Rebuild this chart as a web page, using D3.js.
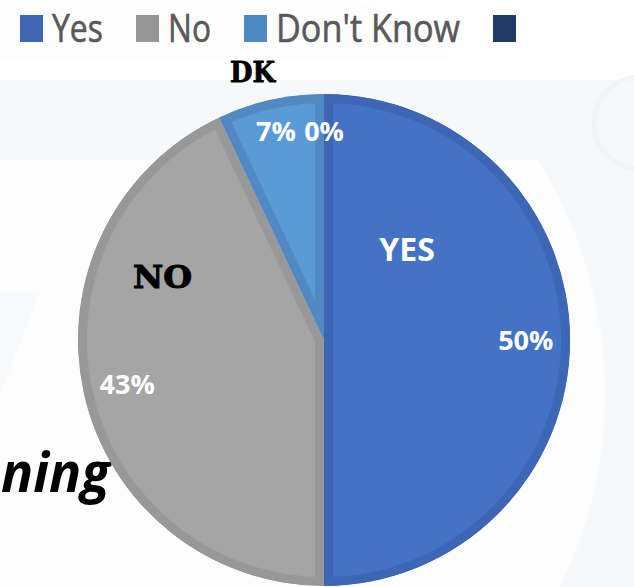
<!DOCTYPE html>
<html>
<head>
<meta charset="utf-8">
<script src="https://cdn.jsdelivr.net/npm/d3@7"></script>
<style>
  html, body { margin: 0; padding: 0; background: #ffffff; overflow: hidden; }
  svg { display: block; }
</style>
</head>
<body>
<svg id="chart" width="634" height="587"></svg>
<script>
// Survey answers
const categories = ["Yes", "No", "Don't Know", "Other"];
const legendLabels = ["Yes", "No", "Don't Know", ""];
const values = [50, 43, 7, 0];
const valueLabels = ["50%", "43%", "7%", "0%"];
const fillColors = ["#4472c4", "#a5a5a5", "#5b9bd5", "#264478"];
const edgeColors = ["#3d66b4", "#989898", "#5189c2", "#203864"];
const legendColors = ["#3f67b5", "#969696", "#4d8ac3", "#223a66"];

const W = 634, H = 587;
const cx = 324, cy = 340, R = 246;

const svg = d3.select("#chart");

// faint watermark shapes in the backdrop
const bg = svg.append("g");
bg.append("rect").attr("x", 0).attr("y", 80).attr("width", W).attr("height", H - 80).attr("fill", "#f7f8fa");
bg.append("circle").attr("cx", 168).attr("cy", 393).attr("r", 437).attr("fill", "#fdfdfe");
bg.append("rect").attr("x", 0).attr("y", 80).attr("width", W).attr("height", 80).attr("fill", "#f7f8fa");
bg.append("rect").attr("x", 0).attr("y", 60).attr("width", W).attr("height", 20).attr("fill", "#ffffff");
bg.append("path")
  .attr("d", "M0,292 L40,292 L-10,420 L-40,420 Z")
  .attr("fill", "#f8f9fb");
bg.append("circle").attr("cx", 640).attr("cy", 123).attr("r", 46)
  .attr("fill", "none").attr("stroke", "#f3f4f6").attr("stroke-width", 5);

// legend
const color = d3.scaleOrdinal().domain(categories).range(legendColors);
const legendX = d3.scaleOrdinal().domain(categories).range([20, 136, 244, 493]);
const legendW = d3.scaleOrdinal().domain(categories).range([51, 43, 184, 0]);
const legend = svg.append("g");
categories.forEach((c, i) => {
  const g = legend.append("g").attr("transform", `translate(${legendX(c)},0)`);
  g.append("rect").attr("x", 0).attr("y", 15).attr("width", 23).attr("height", 27)
    .attr("fill", color(c));
  if (legendLabels[i]) {
    g.append("text")
      .attr("x", 32).attr("y", 42)
      .attr("font-family", "'Open Sans', sans-serif")
      .attr("font-size", 39)
      .attr("fill", "#595959")
      .attr("stroke", "#595959")
      .attr("stroke-width", 0.6)
      .attr("textLength", legendW(c))
      .attr("lengthAdjust", "spacingAndGlyphs")
      .text(legendLabels[i]);
  }
});

// partial title text at the lower left
svg.append("text")
  .attr("x", 1).attr("y", 492)
  .attr("font-family", "'Open Sans', sans-serif")
  .attr("font-weight", 700)
  .attr("font-style", "italic")
  .attr("font-size", 56)
  .attr("fill", "#000")
  .attr("textLength", 109)
  .attr("lengthAdjust", "spacingAndGlyphs")
  .text("ning");

// pie
const pie = d3.pie().sort(null).value(d => d.value);
const arcs = pie(categories.map((c, i) => ({ cat: c, value: values[i], i })));
const arc = d3.arc().innerRadius(0).outerRadius(R);
const labelArc = d3.arc().innerRadius(R * 0.82).outerRadius(R * 0.82);

const pieG = svg.append("g").attr("transform", `translate(${cx},${cy})`);
const defs = svg.append("defs");
arcs.forEach((a, k) => {
  if (a.endAngle - a.startAngle <= 0) return;
  defs.append("clipPath").attr("id", "slice-clip-" + k)
    .append("path").attr("d", arc(a));
});
pieG.selectAll("path.slice")
  .data(arcs.filter(a => a.endAngle > a.startAngle))
  .join("path")
  .attr("class", "slice")
  .attr("d", arc)
  .attr("fill", d => fillColors[d.data.i])
  .attr("stroke", d => edgeColors[d.data.i])
  .attr("stroke-width", 18)
  .attr("clip-path", d => `url(#slice-clip-${d.index})`);

// value labels
const labelNudge = [[0, 0], [0, 0], [-4, -12], [0, -7]];
pieG.selectAll("text.val")
  .data(arcs)
  .join("text")
  .attr("class", "val")
  .attr("transform", d => {
    const p = labelArc.centroid(d);
    const n = labelNudge[d.data.i];
    return `translate(${p[0] + n[0]},${p[1] + n[1]})`;
  })
  .attr("text-anchor", "middle")
  .attr("dy", "0.36em")
  .attr("font-family", "'Open Sans', sans-serif")
  .attr("font-weight", 700)
  .attr("font-size", 27)
  .attr("fill", "#ffffff")
  .text(d => valueLabels[d.data.i]);

// category call-outs
svg.append("text")
  .attr("x", 407).attr("y", 261)
  .attr("text-anchor", "middle")
  .attr("font-family", "'Open Sans', sans-serif")
  .attr("font-weight", 700)
  .attr("font-size", 32)
  .attr("fill", "#ffffff")
  .text("YES");
svg.append("text")
  .attr("x", 133).attr("y", 288)
  .attr("font-family", "'DejaVu Serif', 'Liberation Serif', serif")
  .attr("font-weight", 700)
  .attr("font-size", 32)
  .attr("fill", "#000000")
  .attr("stroke", "#000000")
  .attr("stroke-width", 1)
  .attr("textLength", 59)
  .attr("lengthAdjust", "spacingAndGlyphs")
  .text("NO");
svg.append("text")
  .attr("x", 230).attr("y", 82)
  .attr("font-family", "'DejaVu Serif', 'Liberation Serif', serif")
  .attr("font-weight", 700)
  .attr("font-size", 27)
  .attr("fill", "#000000")
  .attr("stroke", "#000000")
  .attr("stroke-width", 0.8)
  .attr("textLength", 45)
  .attr("lengthAdjust", "spacingAndGlyphs")
  .text("DK");
</script>
</body>
</html>
